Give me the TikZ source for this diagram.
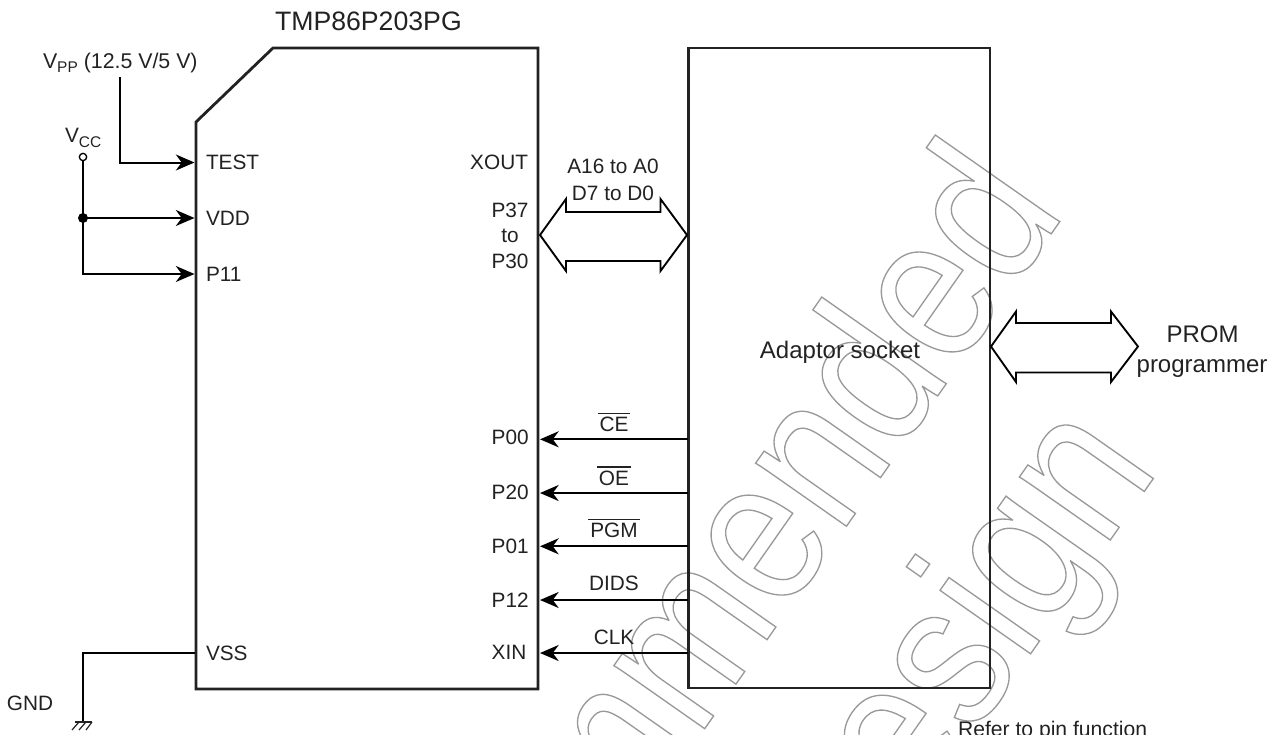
\documentclass[tikz,border=0pt]{standalone}
\usepackage{fontspec}
\setmainfont{Liberation Sans}
\newfontfamily\wmfont[FakeStretch=0.85]{Liberation Sans}
\usetikzlibrary{arrows.meta}
\definecolor{ink}{HTML}{222222}
\definecolor{wm}{HTML}{9A9A9A}
\newcommand{\normsz}{\fontsize{15.6}{18}\selectfont}
\newcommand{\titlesz}{\fontsize{20}{24}\selectfont}
\newcommand{\bigsz}{\fontsize{18}{21}\selectfont}
\newcommand{\subsz}{\fontsize{11.6}{13}\selectfont}
\newcommand{\ovl}[1]{\leavevmode\vbox{\hrule height 1.1pt\kern 2.2pt\hbox{\kern1.5pt #1\kern1.5pt}}}
\newcommand{\subtxt}[1]{\raisebox{-3.4pt}{\subsz #1}}
\newcommand{\outlined}[1]{\special{pdf:code 1 Tr 1 w 0.6 G}#1\special{pdf:code 0 Tr 0 G}}
\tikzset{
  every node/.style={inner sep=0pt,outer sep=0pt,text=ink,font=\normsz},
  box/.style={draw=ink,line width=2.1pt,miter limit=10},
  wire/.style={draw=black,line width=1.5pt},
  sig/.style={wire,-{Stealth[length=14pt,width=12pt,inset=4.4pt]}},
  bus/.style={draw=black,line width=1.4pt,fill=none,line join=miter},
  lblw/.style={anchor=base west},
  lble/.style={anchor=base east},
  lblc/.style={anchor=base},
  watermark/.style={anchor=base east,rotate=55,font=\wmfont\fontsize{157}{160}\selectfont,text=wm},
}
\begin{document}
\begin{tikzpicture}[x=0.75pt,y=-0.75pt]
\useasboundingbox (0,0) rectangle (1282,735);
\clip (0,0) rectangle (1282,735);
% watermark
\node[watermark] (wmone) at (1066.5,212) {\outlined{Recommended}};
\node[watermark] (wmtwo) at (1160,469) {\outlined{Design}};
% boxes
\draw[box] (196,122) -- (273,48) -- (538,48) -- (538,689) -- (196,689) -- cycle;
\draw[box] (688.5,48) rectangle (990,688);
% title
\node[lblw,font=\titlesz] (title) at (275,30.5) {TMP86P203PG};
% left pins
\node[lblw] (test) at (206,169) {TEST};
\node[lblw] (vdd) at (206,225.5) {VDD};
\node[lblw] (p11) at (206,281.5) {P11};
\node[lblw] (vss) at (206,660) {VSS};
\node[lblw] (gnd) at (7,710) {GND};
\node[lblw,font=\fontsize{16}{18}\selectfont] (vpp) at (43,68.3) {V\subtxt{PP} (12.5 V/5 V)};
\node[lblw] (vcc) at (65,142.7) {V\subtxt{CC}};
% right pins
\node[lble] (xout) at (528,169) {XOUT};
\node[lblc] (p37) at (510,217.5) {P37};
\node[lblc] (pto) at (510,242.5) {to};
\node[lblc] (p30) at (510,268.5) {P30};
\node[lblw] (p00) at (491.7,444) {P00};
\node[lblw] (p20) at (491.7,499.5) {P20};
\node[lblw] (p01) at (491.7,553) {P01};
\node[lblw] (p12) at (491.7,607) {P12};
\node[lblw] (xin) at (491.7,659.5) {XIN};
% signal names
\node[lblc] (addr) at (613,173) {A16 to A0};
\node[lblc] (data) at (613,200) {D7 to D0};
\node[lblc] (ce) at (614,431.5) {\ovl{CE}};
\node[lblc] (oe) at (614,485) {\ovl{OE}};
\node[lblc] (pgm) at (614,537.5) {\ovl{PGM}};
\node[lblc] (dids) at (614,590.5) {DIDS};
\node[lblc] (clk) at (614,644.5) {CLK};
\node[lblc,font=\bigsz] (sock) at (840,358.5) {Adaptor socket};
\node[lblc,font=\bigsz] (prom) at (1202.5,342.7) {PROM};
\node[lblc,font=\bigsz] (progr) at (1202,372.7) {programmer};
\node[lblw,font=\fontsize{15.85}{19}\selectfont] (refer) at (958,736) {Refer to pin function};
% wires
\coordinate (vppend) at (120,77);
\coordinate (vppbend) at (120,162.5);
\coordinate (testin) at (194.5,162.5);
\draw[sig] (vppend) -- (vppbend) -- (testin);
\node[circle,draw=black,fill=white,line width=1pt,minimum size=5.5pt] (vccterm) at (83,157) {};
\coordinate (vccj) at (83,218);
\coordinate (vccb) at (83,274);
\coordinate (vddin) at (194.5,218);
\coordinate (p11in) at (194.5,274);
\draw[sig] (vccterm) -- (vccb) -- (p11in);
\draw[sig] (vccj) -- (vddin);
\node[circle,fill=black,minimum size=7.5pt] (vccdot) at (vccj) {};
% ground
\coordinate (vssout) at (195,652.5);
\coordinate (gbend) at (83,652.5);
\coordinate (gtop) at (83,722);
\coordinate (gl) at (75,722);
\coordinate (gr) at (92,722);
\draw[wire] (vssout) -- (gbend) -- (gtop);
\draw[draw=ink,line width=0.9pt] (gl) -- (gr);
\coordinate (ga) at (79,722);\coordinate (gaa) at (72,730);
\coordinate (gb) at (86,722);\coordinate (gbb) at (79,730);
\coordinate (gc) at (92,722);\coordinate (gcc) at (86,730);
\draw[draw=ink,line width=0.9pt] (ga) -- (gaa) (gb) -- (gbb) (gc) -- (gcc);
% control arrows
\foreach \nm/\yy in {ce/439.3,oe/493,pgm/546.3,dids/600,clk/653}{
  \coordinate (\nm src) at (687.5,\yy);
  \coordinate (\nm dst) at (540,\yy);
  \draw[sig] (\nm src) -- (\nm dst);
}
% bus arrows
\draw[bus] (540,235) -- (566,199) -- (566,212) -- (660.5,212) -- (660.5,199) -- (687,235) -- (660.5,271) -- (660.5,261) -- (566,261) -- (566,271) -- cycle;
\draw[bus] (991,346.5) -- (1016,311.5) -- (1016,323) -- (1111,323) -- (1111,311.5) -- (1138,346.5) -- (1111,382) -- (1111,372.5) -- (1016,372.5) -- (1016,382) -- cycle;
\end{tikzpicture}
\end{document}
